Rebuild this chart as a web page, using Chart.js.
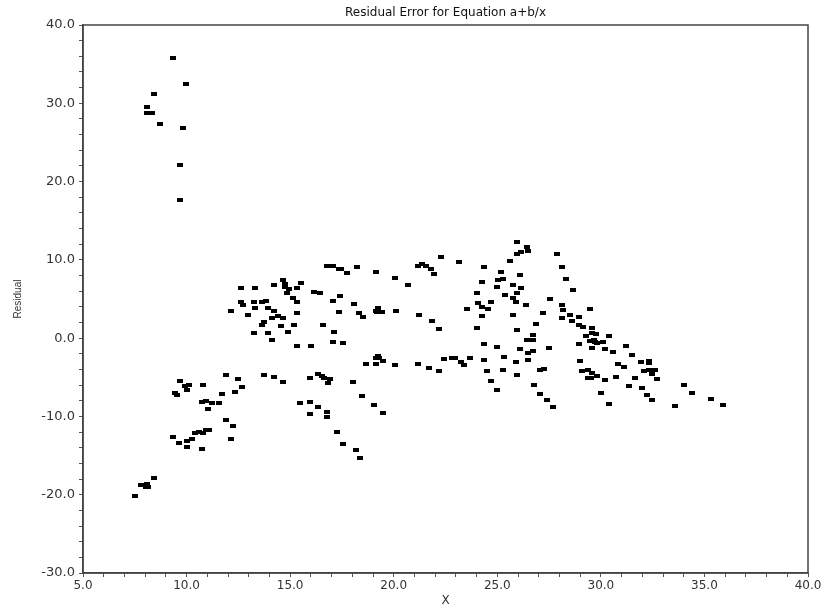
<!DOCTYPE html>
<html>
<head>
<meta charset="utf-8">
<script src="https://cdn.jsdelivr.net/npm/chart.js@4/dist/chart.umd.min.js"></script>
<style>
  html, body { margin: 0; padding: 0; background: #fff; }
  #wrap { width: 826px; height: 610px; }
</style>
</head>
<body>
<div id="wrap"><canvas id="residual"></canvas></div>
<script>
const TITLE = 'Residual Error for Equation a+b/x';
const X_TITLE = 'X';
const Y_TITLE = 'Residual';
const X_RANGE = [5, 40];
const Y_RANGE = [-30, 40];

// residual points, x and y in the same order
const xValues = [
  9.33, 9.96, 8.41, 8.10, 8.10, 8.35, 8.72, 9.81, 9.70, 9.70,
  12.64, 13.32, 14.24, 14.66, 14.74, 14.74, 14.93, 14.85, 15.12, 12.64,
  12.71, 13.26, 13.63, 13.82, 13.32, 13.93, 14.24, 12.16, 12.98, 14.42,
  14.66, 14.13, 13.74, 13.63, 14.54, 15.17, 14.91, 13.26, 13.93, 14.13,
  16.77, 17.06, 17.38, 17.47, 17.75, 18.23, 19.15, 20.08, 20.67, 21.17,
  21.35, 21.56, 21.78, 21.96, 22.29, 23.14, 15.35, 15.53, 16.14, 16.46,
  15.35, 17.06, 17.43, 18.06, 15.35, 17.36, 18.34, 18.53, 19.15, 19.25,
  19.35, 19.45, 19.20, 20.13, 21.24, 21.85, 22.18, 16.57, 17.12, 15.35,
  16.02, 17.06, 17.55,
  19.25, 19.15, 19.30, 19.47, 18.66, 19.15, 20.08, 21.18, 21.68, 22.18,
  22.45, 22.80, 22.96, 23.25, 23.38, 15.96, 16.33, 16.56, 16.64, 16.94,
  16.83, 18.04, 18.45, 19.03, 19.47, 15.46, 15.96, 16.35, 15.96, 16.76,
  16.76, 17.26, 17.55, 18.18, 18.36,
  11.89, 12.47, 12.66, 12.34, 11.73, 13.74, 14.24, 14.66, 9.70, 9.93,
  10.13, 10.00, 10.81, 9.44, 9.52, 10.73, 10.94, 11.23, 11.55, 11.05,
  11.90, 12.23, 12.14, 9.33, 9.64, 10.00, 10.24, 10.00, 10.41, 10.62,
  10.81, 10.94, 11.07, 10.73, 8.41, 7.80, 8.10, 8.04, 8.12, 7.49,
  25.97, 26.45, 26.47, 26.16, 25.97, 25.60, 27.87, 28.11, 28.30, 28.67,
  24.36, 25.17, 26.10, 25.05, 25.29, 24.25, 24.97, 25.78, 26.15, 24.01,
  25.36, 25.97, 25.78, 24.68, 24.07, 25.91, 27.55, 26.41, 24.25, 24.55,
  23.56, 28.11, 28.19, 29.46, 24.25, 25.78, 27.20, 28.49, 28.14, 28.96,
  28.63, 26.89, 28.95, 29.13, 24.01, 25.97, 29.59, 29.57, 29.75, 29.27,
  30.38, 26.70, 26.42, 26.58, 26.74, 29.48, 29.66, 29.72, 29.80, 30.09,
  28.96, 24.36, 24.99, 26.08, 26.70, 27.48, 29.58, 30.19, 30.58, 31.19,
  31.51, 26.47, 25.34, 23.70,
  24.36, 25.91, 26.47, 24.49, 25.29, 25.97, 27.07, 27.26, 24.68, 24.97,
  26.78, 27.07, 27.39, 27.68, 28.98, 29.09, 29.40, 29.59, 29.79, 29.40,
  29.51, 30.21, 30.71, 30.83, 31.12, 31.64, 31.38, 30.03, 30.38,
  31.93, 32.30, 32.30, 32.09, 32.31, 32.60, 32.47, 32.72, 32.00, 32.24,
  32.47, 34.02, 34.39, 33.58, 35.31, 35.92
];

const yValues = [
  35.8, 32.4, 31.2, 29.5, 28.8, 28.7, 27.4, 26.9, 22.1, 17.7,
  6.43, 6.43, 6.85, 7.37, 6.94, 6.51, 6.34, 5.79, 5.07, 4.56,
  4.26, 4.56, 4.56, 4.73, 3.87, 3.87, 3.49, 3.53, 2.94, 2.77,
  2.51, 2.51, 2.04, 1.62, 1.53, 1.66, 0.77, 0.60, 0.68, -0.26,
  9.23, 9.23, 8.85, 8.81, 8.30, 9.11, 8.47, 7.70, 6.77, 9.16,
  9.49, 9.16, 8.85, 8.21, 10.38, 9.79, 6.38, 6.98, 5.92, 5.83,
  4.60, 4.77, 5.40, 4.30, 3.23, 3.36, 3.19, 2.68, 3.50, 3.80,
  3.40, 3.30, 3.30, 3.45, 2.98, 2.17, 1.19, 1.62, 0.77, -0.94,
  -1.02, -0.43, -0.64,
  -2.30, -2.50, -2.60, -2.98, -3.36, -3.28, -3.45, -3.36, -3.75, -4.17,
  -2.72, -2.60, -2.51, -3.07, -3.45, -5.07, -4.60, -4.85, -5.15, -5.24,
  -5.75, -5.62, -7.37, -8.56, -9.62, -8.26, -8.17, -8.85, -9.71, -9.49,
  -10.09, -11.97, -13.50, -14.27, -15.33,
  -4.77, -5.24, -6.21, -6.90, -7.15, -4.77, -4.90, -5.58, -5.45, -6.05,
  -5.96, -6.60, -6.00, -7.03, -7.28, -8.21, -8.00, -8.30, -8.30, -9.03,
  -10.43, -11.24, -12.94, -12.64, -13.41, -13.11, -12.94, -13.88, -12.09, -12.05,
  -12.09, -11.75, -11.75, -14.13, -17.82, -18.77, -18.69, -19.07, -19.07, -20.14,
  12.26, 11.62, 11.11, 11.02, 10.73, 9.87, 10.69, 9.11, 7.54, 6.17,
  9.11, 8.51, 8.05, 7.45, 7.54, 7.11, 6.47, 6.77, 6.39, 5.71,
  5.49, 5.71, 5.15, 4.64, 4.47, 4.56, 4.94, 4.26, 3.92, 3.70,
  3.70, 4.26, 3.58, 3.70, 2.85, 2.94, 3.15, 2.94, 2.51, 2.68,
  2.17, 1.87, 1.70, 1.45, 1.24, 1.06, 1.24, 0.64, 0.55, 0.30,
  0.21, 0.34, -0.26, -0.26, -0.26, -0.34, -0.21, -0.55, -0.64, -0.43,
  -0.72, -0.81, -1.19, -1.41, -1.58, -1.32, -1.24, -1.36, -1.83, -0.94,
  -2.17, -1.92, -2.38, -2.55,
  -2.81, -3.07, -2.81, -4.21, -4.13, -4.73, -4.13, -3.96, -5.45, -6.60,
  -5.96, -7.15, -7.92, -8.85, -2.89, -4.21, -4.09, -4.39, -4.85, -5.15,
  -5.15, -5.32, -4.90, -3.32, -3.66, -5.11, -6.13, -6.98, -8.43,
  -3.02, -3.15, -2.90, -4.17, -4.09, -4.13, -4.60, -5.20, -6.39, -7.20,
  -7.92, -5.96, -6.98, -8.68, -7.71, -8.51
];

// small flat black blob used as the marker
const marker = document.createElement('canvas');
marker.width = 6;
marker.height = 4;
const mctx = marker.getContext('2d');
mctx.fillStyle = '#000';
mctx.fillRect(0, 0, 6, 4);

const points = xValues.map((x, i) => ({ x, y: yValues[i] }));

const FONT = 'DejaVu Sans';
const TEXT_COLOR = '#333';

// box round the plot area, and the title centred over it
const frame = {
  id: 'frame',
  afterDraw(chart) {
    const { ctx, chartArea: { left, top, right, bottom } } = chart;
    ctx.save();
    ctx.strokeStyle = '#444';
    ctx.lineWidth = 1.5;
    ctx.strokeRect(left, top, right - left, bottom - top);

    ctx.fillStyle = '#111';
    ctx.font = `12px "${FONT}"`;
    ctx.textAlign = 'center';
    ctx.textBaseline = 'middle';
    ctx.fillText(TITLE, (left + right) / 2, 13);
    ctx.restore();
  },
};

new Chart(document.getElementById('residual'), {
  type: 'scatter',
  data: {
    datasets: [{
      data: points,
      pointStyle: marker,
      pointRadius: 3,
      pointHoverRadius: 3,
    }],
  },
  options: {
    responsive: true,
    maintainAspectRatio: false,
    animation: false,
    events: [],
    layout: { padding: { top: 25, right: 18 } },
    plugins: {
      legend: { display: false },
      tooltip: { enabled: false },
      title: { display: false },
    },
    scales: {
      x: {
        type: 'linear',
        min: X_RANGE[0],
        max: X_RANGE[1],
        afterFit: (scale) => { scale.height = 37; },
        ticks: {
          stepSize: 1,
          autoSkip: false,
          maxRotation: 0,
          padding: 2,
          color: TEXT_COLOR,
          font: { family: FONT, size: 12 },
          callback: (v) => (v % 5 === 0 ? v.toFixed(1) : ''),
        },
        grid: { drawOnChartArea: false, tickLength: 4, color: '#555' },
        border: { color: '#444', width: 1.5 },
        title: {
          display: true,
          text: X_TITLE,
          color: TEXT_COLOR,
          font: { family: FONT, size: 12 },
          padding: { top: 0, bottom: 2 },
        },
      },
      y: {
        type: 'linear',
        min: Y_RANGE[0],
        max: Y_RANGE[1],
        afterFit: (scale) => { scale.width = 83; },
        ticks: {
          stepSize: 2,
          autoSkip: false,
          padding: 4,
          color: TEXT_COLOR,
          font: { family: FONT, size: 13 },
          callback: (v) => (v % 10 === 0 ? v.toFixed(1) : ''),
        },
        grid: { drawOnChartArea: false, tickLength: 4, color: '#555' },
        border: { color: '#444', width: 1.5 },
        title: {
          display: true,
          text: Y_TITLE,
          color: TEXT_COLOR,
          font: { family: 'Liberation Sans', size: 10 },
          padding: { top: 12, bottom: 0 },
        },
      },
    },
  },
  plugins: [frame],
});
</script>
</body>
</html>
